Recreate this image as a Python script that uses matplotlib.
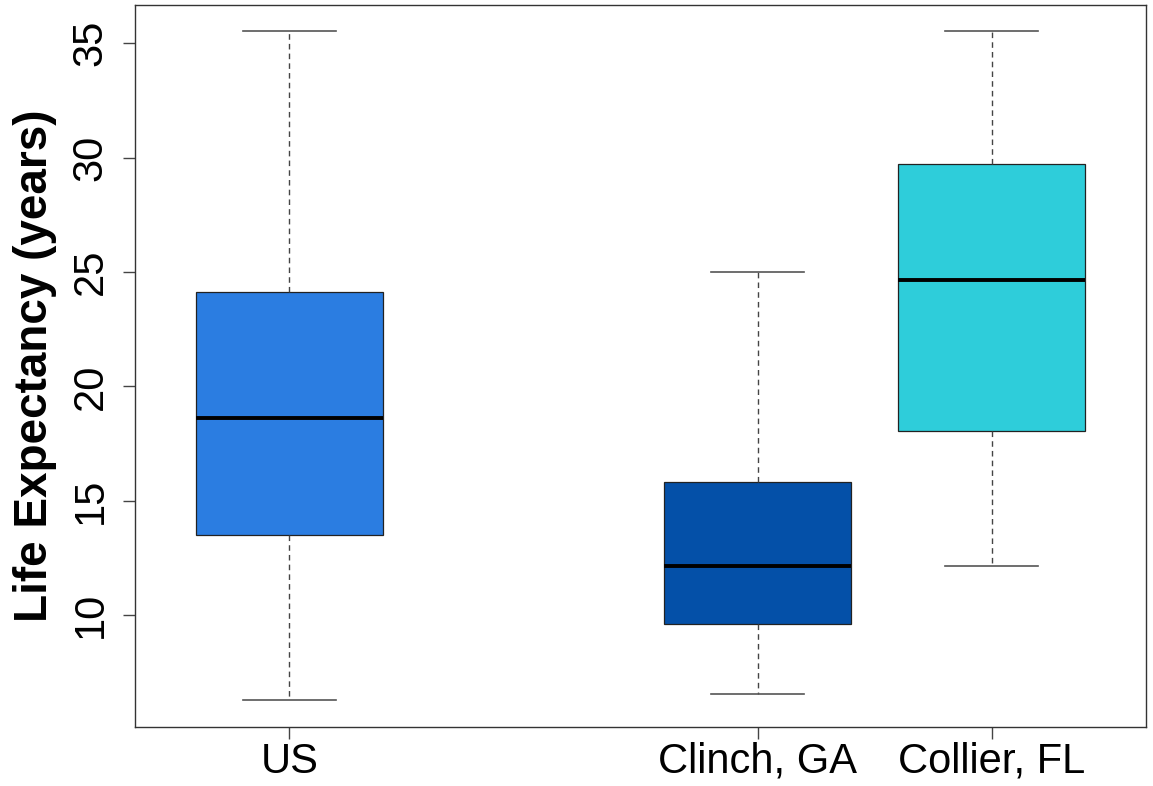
import matplotlib
matplotlib.use('Agg')
import matplotlib.pyplot as plt

plt.rcParams['font.family'] = ['Liberation Sans', 'DejaVu Sans']

# five-number summaries per county, R boxplot style
groups = ['US', 'Clinch, GA', 'Collier, FL']
positions = [1, 3, 4]
whislo = [6.29, 6.58, 12.16]
q1 = [13.51, 9.63, 18.07]
med = [18.62, 12.16, 24.66]
q3 = [24.12, 15.84, 29.72]
whishi = [35.51, 25.0, 35.51]
colors = ['#2b7de1', '#0450a8', '#2ecdda']
yticks = [10, 15, 20, 25, 30, 35]

stats = []
for i, name in enumerate(groups):
    stats.append(dict(label=name, whislo=whislo[i], q1=q1[i], med=med[i],
                      q3=q3[i], whishi=whishi[i], fliers=[]))

fig = plt.figure(figsize=(11.53, 7.86), dpi=100)
ax = fig.add_axes([135 / 1153, 1 - 727 / 786, 1011 / 1153, 722.3 / 786])

bp = ax.bxp(stats, positions=positions, widths=0.8, patch_artist=True,
            boxprops=dict(edgecolor='#222222', linewidth=0.9),
            medianprops=dict(color='black', linewidth=2.8, solid_capstyle='butt'),
            whiskerprops=dict(color='#444444', linewidth=1.0, linestyle=(0, (4, 3))),
            capprops=dict(color='#555555', linewidth=1.2),
            capwidths=0.4)
for patch, c in zip(bp['boxes'], colors):
    patch.set_facecolor(c)

# R pads the data range by 4% on each side
lo, hi = min(whislo), max(whishi)
pad = 0.04 * (hi - lo)
ax.set_ylim(lo - pad, hi + pad)
ax.set_xlim(0.5 - 0.16, 4.5 + 0.16)

ax.set_xticks(positions)
ax.set_xticklabels(groups, fontsize=30)
ax.set_yticks(yticks)
ax.set_yticklabels([str(t) for t in yticks], fontsize=30, rotation=90, va='center')

ax.tick_params(axis='y', length=8.6, width=1.0, color='#444444', pad=9)
ax.tick_params(axis='x', length=8.6, width=1.0, color='#444444', pad=2)

for s in ax.spines.values():
    s.set_color('#333333')
    s.set_linewidth(1.0)

ax.set_ylabel('Life Expectancy (years)', fontsize=33, fontweight='bold')
ax.yaxis.set_label_coords(-0.077, 0.5)

fig.savefig('out.png', dpi=100)
